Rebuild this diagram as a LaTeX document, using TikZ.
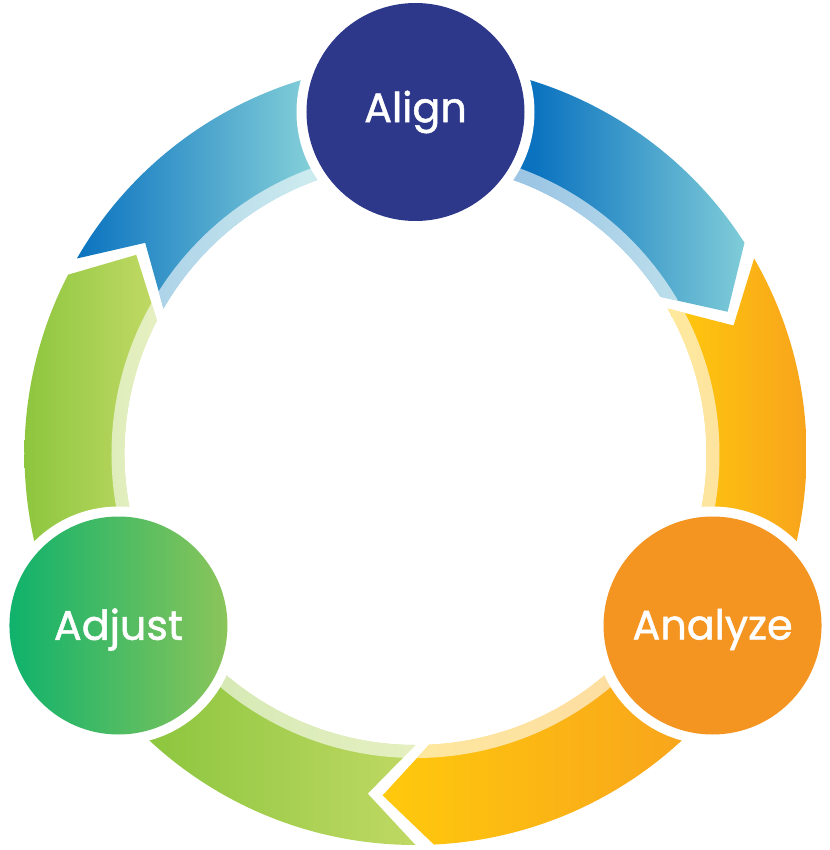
\documentclass[tikz,border=0pt]{standalone}
\usepackage{fontspec}
\setmainfont{Poppins}
\newfontfamily\stagefont{Poppins}[FakeBold=1.2]
\definecolor{alignnavy}{HTML}{2D388A}
\definecolor{analyzeorange}{HTML}{F49421}
\definecolor{adjustgreen}{HTML}{0FB26C}
\definecolor{adjustlime}{HTML}{8BC55A}
\definecolor{bluedark}{HTML}{0A72BF}
\definecolor{bluelight}{HTML}{80CDD8}
\definecolor{yellowlight}{HTML}{FFC90C}
\definecolor{yellowdark}{HTML}{F8A41C}
\definecolor{greendark}{HTML}{8DC63F}
\definecolor{greenlight}{HTML}{C3DA66}

% one arrow of the ring, #1 = turn
\newcommand{\cyclearrow}[1]{(150+#1:391) arc[start angle=150+#1, end angle=32.7+#1, radius=391]
  -- (24.5+#1:343) -- (32.7+#1:291) arc[start angle=32.7+#1, end angle=150+#1, radius=291]
  -- (142+#1:343) -- cycle}
% left-to-right gradient between x=#1 and x=#2
\newcommand{\hgrad}[4]{%
  \fill[#3] (-500,-500) rectangle (#1,500);
  \shade[left color=#3, right color=#4] (#1,-500) rectangle (#2,500);
  \fill[#4] (#2,-500) rectangle (500,500);}
% label set a little lower in its circle
\newcommand{\lowlabel}[1]{\raisebox{-3pt}[\height][\depth]{#1}}

\tikzset{stage/.style={circle, minimum size=163.5pt, inner sep=0pt, text=white,
    font=\stagefont\fontsize{31}{31}\selectfont, preaction={draw=white, line width=15pt}}}

\begin{document}
\begin{tikzpicture}[x=0.75pt, y=0.75pt]
  \useasboundingbox (-415.5,-396) rectangle (414.5,454);

  % Blue arrow (top)
  \begin{scope}
    \clip \cyclearrow{0};
    \clip (-500,-500) rectangle (0,500);
    \hgrad{-339}{-110}{bluedark}{bluelight}
  \end{scope}
  \begin{scope}
    \clip \cyclearrow{0};
    \clip (0,-500) rectangle (500,500);
    \hgrad{118}{330}{bluedark}{bluelight}
  \end{scope}

  % Yellow arrow (right)
  \begin{scope}
    \clip \cyclearrow{-120};
    \clip[rotate=-120] (-500,-500) rectangle (0,500);
    \hgrad{256}{391}{yellowlight}{yellowdark}
  \end{scope}
  \begin{scope}
    \clip \cyclearrow{-120};
    \clip[rotate=-120] (0,-500) rectangle (500,500);
    \hgrad{-33}{275}{yellowlight}{yellowdark}
  \end{scope}

  % Green arrow (left)
  \begin{scope}
    \clip \cyclearrow{-240};
    \clip[rotate=-240] (-500,-500) rectangle (0,500);
    \hgrad{-265}{18}{greendark}{greenlight}
  \end{scope}
  \begin{scope}
    \clip \cyclearrow{-240};
    \clip[rotate=-240] (0,-500) rectangle (500,500);
    \hgrad{-391}{-255}{greendark}{greenlight}
  \end{scope}

  % light inner rim
  \foreach \turn in {0,-120,-240} {
    \begin{scope}
      \clip \cyclearrow{\turn};
      \fill[white, opacity=.6] (0,0) circle[radius=304];
    \end{scope}
  }

  % stages
  \node[stage, fill=alignnavy] (align) at (90:342) {Align};
  \node[stage, fill=analyzeorange] (analyze) at (-30:343) {\lowlabel{Analyze}};
  \node[stage, left color=adjustgreen, right color=adjustlime] (adjust) at (210:343) {\lowlabel{Adjust}};
\end{tikzpicture}
\end{document}
